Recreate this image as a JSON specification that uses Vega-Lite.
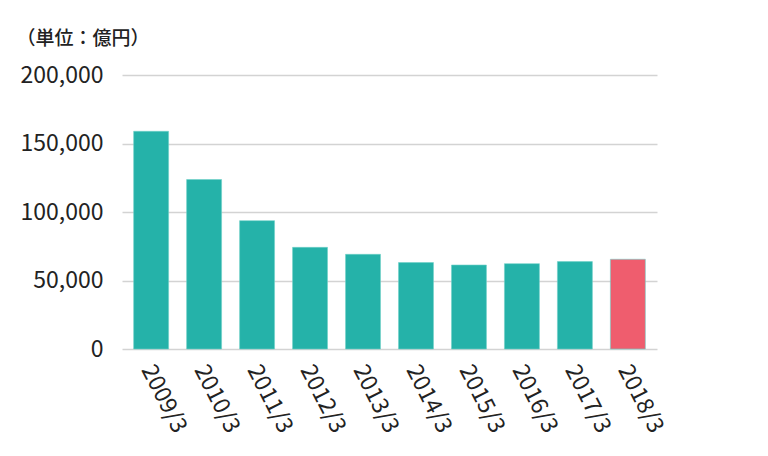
{
  "$schema": "https://vega.github.io/schema/vega-lite/v6.json",
  "width": 535,
  "height": 274,
  "autosize": {"type": "none"},
  "padding": {"left": 122, "top": 75, "right": 111, "bottom": 107},
  "background": "white",
  "config": {
    "font": "Noto Sans CJK JP",
    "view": {"stroke": null}
  },
  "data": {
    "values": [
      {"year": "2009/3", "value": 158900},
      {"year": "2010/3", "value": 123700},
      {"year": "2011/3", "value": 93700},
      {"year": "2012/3", "value": 74200},
      {"year": "2013/3", "value": 69100},
      {"year": "2014/3", "value": 63100},
      {"year": "2015/3", "value": 61300},
      {"year": "2016/3", "value": 62300},
      {"year": "2017/3", "value": 63800},
      {"year": "2018/3", "value": 65500}
    ]
  },
  "mark": {"type": "bar", "strokeWidth": 1, "stroke": "#6fd0c8", "strokeOpacity": 0.6},
  "encoding": {
    "x": {
      "field": "year",
      "type": "ordinal",
      "sort": null,
      "scale": {"paddingInner": 0.34, "paddingOuter": 0.22},
      "axis": {
        "title": null,
        "domain": false,
        "ticks": false,
        "labelAngle": 63,
        "labelAlign": "left",
        "labelBaseline": "top",
        "labelPadding": 12,
        "labelOffset": 6,
        "labelFontSize": 23,
        "labelColor": "#222222",
        "labelFont": "Noto Sans CJK JP"
      }
    },
    "y": {
      "field": "value",
      "type": "quantitative",
      "scale": {"domain": [0, 200000], "nice": false},
      "axis": {
        "title": "（単位：億円）",
        "titleAngle": 0,
        "titleAlign": "left",
        "titleBaseline": "middle",
        "titleX": -106,
        "titleY": -37,
        "titleFontSize": 19,
        "titleFontWeight": 500,
        "titleColor": "#222222",
        "titleFont": "Noto Sans CJK JP",
        "values": [0, 50000, 100000, 150000, 200000],
        "format": ",d",
        "domain": false,
        "ticks": false,
        "labelPadding": 19,
        "labelFontSize": 23,
        "labelColor": "#222222",
        "labelFont": "Noto Sans CJK JP",
        "gridColor": "#d3d3d3",
        "gridWidth": 1.5
      }
    },
    "color": {
      "condition": {"test": "datum.year === '2018/3'", "value": "#ef5d6e"},
      "value": "#25b2a9"
    }
  }
}
